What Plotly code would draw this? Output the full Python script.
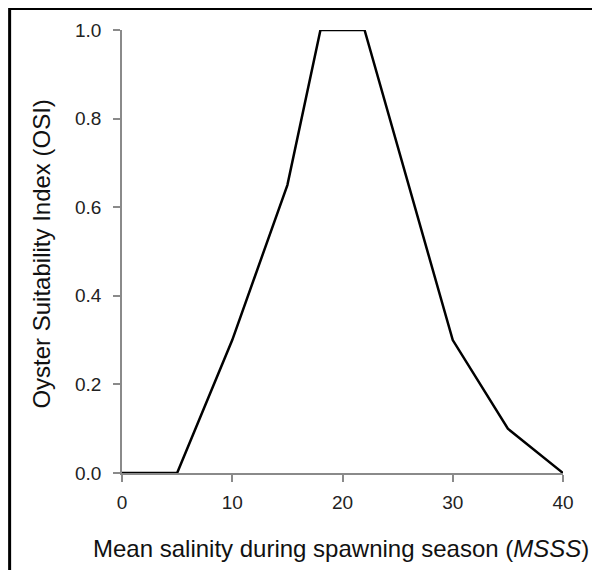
import plotly.graph_objects as go

salinity = [0, 5, 10, 15, 18, 22, 30, 35, 40]
osi = [0, 0, 0.3, 0.65, 1.0, 1.0, 0.3, 0.1, 0]
x_ticks = [0, 10, 20, 30, 40]
y_ticks = [0.0, 0.2, 0.4, 0.6, 0.8, 1.0]
y_tick_labels = ["0.0", "0.2", "0.4", "0.6", "0.8", "1.0"]
x_title = "Mean salinity during spawning season (<i>MSSS</i>)"
y_title = "Oyster Suitability Index (OSI)"

OFF = 8  # page body margin
W, H = 600 - OFF, 570 - OFF
# plot area in page pixels
PL, PR, PT, PB = 121.5, 563, 30, 473
L, T = PL - OFF, PT - OFF
R, B = W - (PR - OFF), H - (PB - OFF)
pw, ph = PR - PL, PB - PT

fig = go.Figure()
fig.add_trace(go.Scatter(x=salinity, y=osi, mode="lines",
                         line=dict(color="black", width=2.5), showlegend=False,
                         cliponaxis=False))

font = "Liberation Sans, Arial, sans-serif"
axis_common = dict(showgrid=False, zeroline=False, showline=True, linecolor="#8a8a8a",
                   linewidth=1.5, ticks="outside", ticklen=7, tickwidth=1.5,
                   tickcolor="#8a8a8a", tickfont=dict(family=font, size=19, color="#222"))
fig.update_xaxes(range=[0, 40], tickvals=x_ticks, ticklabelstandoff=4, **axis_common)
fig.update_yaxes(range=[0, 1.0], tickvals=y_ticks, ticktext=y_tick_labels,
                 ticklabelstandoff=8, **axis_common)

def px_x(p):
    return (p - PL) / pw

def px_y(p):
    return (PB - p) / ph

fig.add_annotation(text=x_title, xref="paper", yref="paper", x=px_x(341), y=px_y(548),
                   showarrow=False, xanchor="center", yanchor="middle",
                   font=dict(family=font, size=24, color="#111"))
fig.add_annotation(text=y_title, xref="paper", yref="paper", x=px_x(40), y=px_y(254),
                   showarrow=False, xanchor="center", yanchor="middle", textangle=-90,
                   font=dict(family=font, size=24, color="#111"))
fig.add_shape(type="rect", xref="paper", yref="paper",
              x0=px_x(9), x1=px_x(620), y0=px_y(590), y1=px_y(8.5),
              line=dict(color="black", width=3), fillcolor="rgba(0,0,0,0)", layer="above")

fig.update_layout(width=W, height=H, margin=dict(l=L, r=R, t=T, b=B, pad=0),
                  plot_bgcolor="white", paper_bgcolor="white")
fig.write_html("out.html")
